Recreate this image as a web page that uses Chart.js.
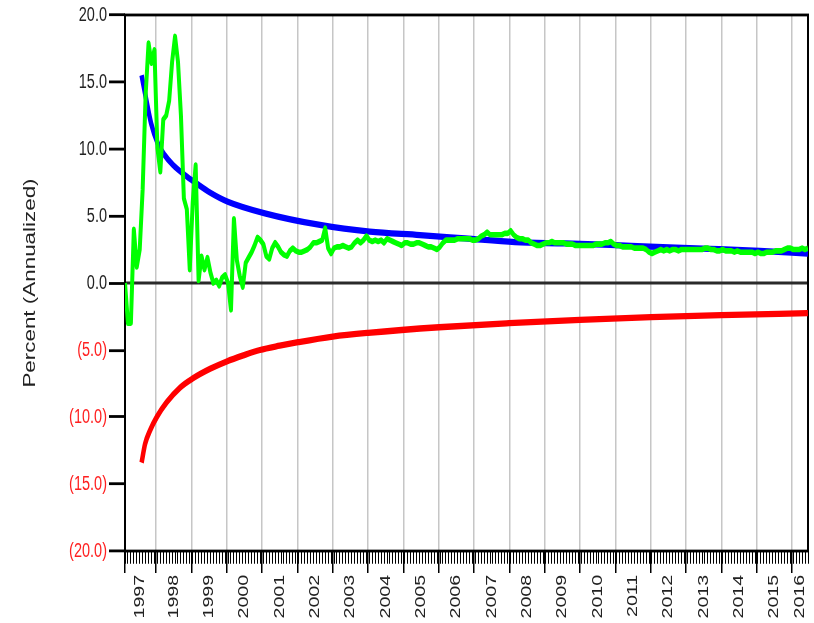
<!DOCTYPE html>
<html>
<head>
<meta charset="utf-8">
<script src="https://cdn.jsdelivr.net/npm/chart.js@4.4.1/dist/chart.umd.min.js"></script>
<style>
  html, body { margin: 0; padding: 0; background: #ffffff; }
  #c { display: block; }
</style>
</head>
<body>
<canvas id="c" width="814" height="445" style="width:814px;height:623px"></canvas>
<script>
// ---- data -------------------------------------------------------------
// Monthly observations (annualized %), first observation Feb 1997 (decimal year)
const obsStart = 1997.12;
const monthlyReturn = [
  0.0, -3.0, -3.0, 4.0, 1.2, 2.5, 7.0, 14.0, 17.9, 16.4,
  17.4, 10.1, 8.3, 12.2, 12.5, 13.6, 16.5, 18.4, 16.5, 12.5,
  6.3, 5.5, 1.0, 6.0, 8.8, 0.2, 2.0, 1.0, 1.9, 0.8,
  0.0, 0.2, -0.2, 0.4, 0.6, 0.0, -2.0, 4.8, 1.7, 0.5,
  -0.3, 1.5, 1.9, 2.3, 2.8, 3.4, 3.2, 2.9, 2.0, 1.8,
  2.6, 3.0, 2.7, 2.3, 2.1, 2.0, 2.4, 2.6, 2.4, 2.3,
  2.3, 2.4, 2.5, 2.7, 3.0, 3.0, 3.1, 3.2, 4.1, 2.6,
  2.2, 2.6, 2.7, 2.7, 2.8, 2.7, 2.6, 2.7, 3.0, 3.2,
  3.0, 3.2, 3.5, 3.2, 3.1, 3.2, 3.1, 3.2, 3.0, 3.3,
  3.2, 3.1, 3.0, 2.9, 2.8, 3.0, 3.0, 2.9, 2.9, 3.0,
  3.0, 2.9, 2.8, 2.7, 2.7, 2.6, 2.5, 2.7, 3.0, 3.2,
  3.2, 3.2, 3.2, 3.3, 3.3, 3.3, 3.3, 3.3, 3.2, 3.2,
  3.3, 3.5, 3.6, 3.8, 3.6, 3.6, 3.6, 3.6, 3.6, 3.7,
  3.7, 3.9, 3.6, 3.4, 3.3, 3.3, 3.2, 3.2, 3.0, 2.9,
  2.8, 2.8, 2.9, 3.0, 3.0, 3.1, 3.0, 3.0, 3.0, 3.0,
  2.9, 2.9, 2.9, 2.8, 2.8, 2.8, 2.8, 2.8, 2.8, 2.8,
  2.9, 2.9, 2.9, 3.0, 3.0, 3.1, 2.9, 2.8, 2.8, 2.7,
  2.7, 2.7, 2.7, 2.6, 2.6, 2.6, 2.6, 2.5, 2.3, 2.2,
  2.3, 2.4, 2.5, 2.4, 2.5, 2.4, 2.5, 2.5, 2.4, 2.5,
  2.5, 2.5, 2.5, 2.5, 2.5, 2.5, 2.5, 2.6, 2.6, 2.5,
  2.5, 2.4, 2.4, 2.5, 2.4, 2.4, 2.4, 2.3, 2.4, 2.3,
  2.3, 2.3, 2.3, 2.3, 2.2, 2.3, 2.2, 2.2, 2.3, 2.3,
  2.3, 2.4, 2.4, 2.4, 2.5, 2.6, 2.6, 2.5, 2.5, 2.5,
  2.6, 2.5, 2.6
];

// Upper band (blue)
const upperDates  = [1997.59, 1997.72, 1997.86, 1998.05, 1998.24, 1998.48, 1998.81, 1999.14, 1999.53, 2000.03, 2001.08, 2002.64, 2004.05, 2005.47, 2006.74, 2008.16, 2009.57, 2010.85, 2011.98, 2013.68, 2015.09, 2016.45];
const upperValues = [15.5, 13.7, 11.9, 10.4, 9.55, 8.8, 8.06, 7.44, 6.75, 6.07, 5.2, 4.33, 3.83, 3.58, 3.33, 3.05, 2.95, 2.84, 2.71, 2.55, 2.4, 2.2];

// Lower band (red)
const lowerDates  = [1997.59, 1997.69, 1997.83, 1998.02, 1998.30, 1998.68, 1999.05, 1999.53, 2000.00, 2000.47, 2000.94, 2001.50, 2002.02, 2003.0, 2004.0, 2006.01, 2007.99, 2010.0, 2012.01, 2013.99, 2016.45];
const lowerValues = [-13.4, -12.0, -11.0, -10.0, -8.9, -7.8, -7.1, -6.4, -5.85, -5.4, -5.0, -4.68, -4.42, -4.0, -3.72, -3.3, -3.0, -2.75, -2.55, -2.4, -2.25];

const yearLabels = ['1997','1998','1999','2000','2001','2002','2003','2004','2005','2006',
                    '2007','2008','2009','2010','2011','2012','2013','2014','2015','2016'];
const yTickValues = [-20, -15, -10, -5, 0, 5, 10, 15, 20];

// ---- layout -----------------------------------------------------------
const OUT_H = 623;          // displayed height
const LAYOUT_H = 445;       // height the chart is laid out in (drawn stretched vertically)
const PLOT_BOTTOM = 393.6;  // bottom of the plot area in layout units
const FONT = "'Liberation Sans', Arial, sans-serif";

const xMin = obsStart;
const xMax = obsStart + (monthlyReturn.length - 1) / 12;

// label sits in the middle of the visible part of each calendar year
const yearLabelPos = yearLabels.map(s => {
  const yr = Number(s);
  return (Math.max(yr, xMin) + Math.min(yr + 1, xMax)) / 2;
});
const yearMarks = [xMin].concat(yearLabels.slice(1).map(Number));
const monthMarks = monthlyReturn.map((_, i) => xMin + i / 12);

const toPoints = (xs, ys) => xs.map((x, i) => ({ x: x, y: ys[i] }));

// plot frame and zero line
const framePlugin = {
  id: 'frame',
  beforeDatasetsDraw(chart) {
    const { ctx, chartArea: a, scales } = chart;
    const y0 = scales.y.getPixelForValue(0);
    ctx.save();
    ctx.lineWidth = 2;
    ctx.strokeStyle = '#2a2a2a';
    ctx.beginPath();
    ctx.moveTo(a.left, y0);
    ctx.lineTo(a.right, y0);
    ctx.stroke();
    ctx.strokeStyle = '#000000';
    ctx.strokeRect(a.left, a.top, a.right - a.left, a.bottom - a.top);
    ctx.restore();
  }
};

const zeroHeight = s => { s.height = 0; s.paddingLeft = 0; s.paddingRight = 0; };
const baseX = { type: 'linear', position: 'bottom', min: xMin, max: xMax, border: { display: false } };

const canvas = document.getElementById('c');
const chart = new Chart(canvas, {
  type: 'line',
  data: {
    datasets: [
      {
        data: toPoints(monthMarks, monthlyReturn),
        borderColor: '#00ff00',
        borderWidth: 4,
        borderJoinStyle: 'round',
        pointRadius: 0,
        tension: 0,
        fill: false
      },
      {
        data: toPoints(upperDates, upperValues),
        borderColor: '#0000ff',
        borderWidth: 4.5,
        pointRadius: 0,
        cubicInterpolationMode: 'monotone',
        fill: false
      },
      {
        data: toPoints(lowerDates, lowerValues),
        borderColor: '#ff0000',
        borderWidth: 4.5,
        pointRadius: 0,
        cubicInterpolationMode: 'monotone',
        fill: false
      }
    ]
  },
  options: {
    responsive: false,
    animation: false,
    devicePixelRatio: 1,
    events: [],
    layout: { padding: { top: 10.7, right: 6, bottom: 0, left: 0 } },
    plugins: { legend: { display: false }, tooltip: { enabled: false } },
    scales: {
      x: Object.assign({}, baseX, {
        weight: 10,
        grid: { display: false, drawTicks: false },
        ticks: {
          autoSkip: false, minRotation: 90, maxRotation: 90, padding: 17,
          color: '#222222', font: { family: FONT, size: 14 },
          callback: (v, i) => yearLabels[i]
        },
        afterBuildTicks: s => { s.ticks = yearLabelPos.map(v => ({ value: v })); },
        afterFit: s => { s.height = LAYOUT_H - PLOT_BOTTOM; s.paddingLeft = 0; s.paddingRight = 0; }
      }),
      xYears: Object.assign({}, baseX, {
        weight: 0,
        ticks: { display: false, autoSkip: false, callback: () => '' },
        grid: {
          color: c => (c.tick && c.tick.value > xMin + 0.01) ? '#c6c6c6' : 'rgba(0,0,0,0)',
          lineWidth: 1.5,
          drawTicks: true, tickLength: 15.7, tickColor: '#000000', tickWidth: 1.5
        },
        afterBuildTicks: s => { s.ticks = yearMarks.map(v => ({ value: v })); },
        afterFit: zeroHeight
      }),
      xMonths: Object.assign({}, baseX, {
        weight: 1,
        ticks: { display: false, autoSkip: false, callback: () => '' },
        grid: { drawOnChartArea: false, drawTicks: true, tickLength: 9, tickColor: '#000000', tickWidth: 1 },
        afterBuildTicks: s => { s.ticks = monthMarks.map(v => ({ value: v })); },
        afterFit: zeroHeight
      }),
      y: {
        type: 'linear', min: -20, max: 20,
        border: { display: false },
        grid: { drawOnChartArea: false, drawTicks: true, tickLength: 16, tickColor: '#000000', tickWidth: 2 },
        ticks: {
          padding: 2,
          font: { family: FONT, size: 14.5 },
          color: c => (c.tick && c.tick.value < 0) ? '#ff1f1f' : '#222222',
          callback: v => v < 0 ? '(' + (-v).toFixed(1) + ')' : v.toFixed(1)
        },
        afterBuildTicks: s => { s.ticks = yTickValues.map(v => ({ value: v })); },
        title: {
          display: true, text: 'Percent (Annualized)', color: '#222222',
          font: { family: FONT, size: 16 }, padding: { top: 21, bottom: 0 }
        },
        afterFit: s => { s.width = 125; }
      }
    }
  },
  plugins: [framePlugin]
});

// full-resolution backing store, drawn with a vertical stretch
canvas.height = OUT_H;
canvas.style.height = OUT_H + 'px';
chart.ctx.setTransform(1, 0, 0, OUT_H / LAYOUT_H, 0, 0);
chart.draw();
</script>
</body>
</html>
